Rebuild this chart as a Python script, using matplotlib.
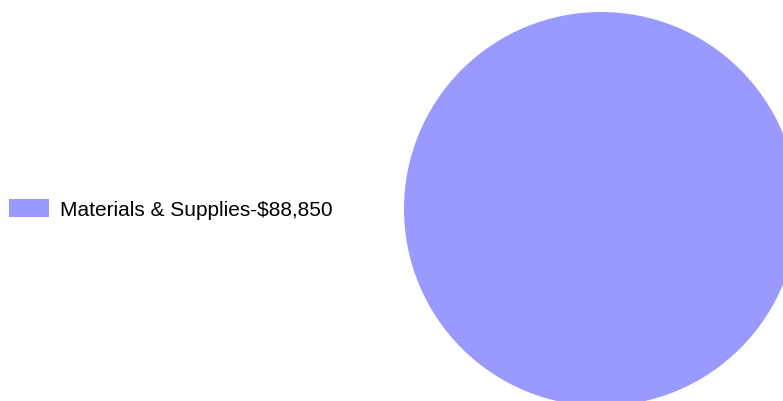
import matplotlib
matplotlib.use("Agg")
import matplotlib.pyplot as plt
from matplotlib.patches import Rectangle

categories = ["Materials & Supplies"]
values = [88850]
colors = ["#9999FF"]

W, H = 783, 401
fig = plt.figure(figsize=(W / 100, H / 100), dpi=100)
fig.patch.set_facecolor("white")

# pie axes: center (601, 209) px from top, radius 197 px
cx, cy, r = 601, 209, 197
ax = fig.add_axes([(cx - r) / W, (H - cy - r) / H, 2 * r / W, 2 * r / H])
ax.pie(values, colors=colors, radius=1, startangle=90, counterclock=False,
       wedgeprops=dict(linewidth=0))
ax.set_xlim(-1, 1)
ax.set_ylim(-1, 1)
ax.set_aspect("equal")
ax.axis("off")

# legend
for i, (cat, val, col) in enumerate(zip(categories, values, colors)):
    y_top = 199 + i * 24
    fig.patches.append(Rectangle((9 / W, (H - y_top - 18) / H), 40 / W, 18 / H,
                                 transform=fig.transFigure, facecolor=col,
                                 edgecolor="none"))
    fig.text(60 / W, (H - y_top - 17) / H, f"{cat}-${val:,}",
             fontsize=15, family="Liberation Sans", va="baseline", ha="left",
             color="black")

fig.savefig("out.png", dpi=100, facecolor="white")
